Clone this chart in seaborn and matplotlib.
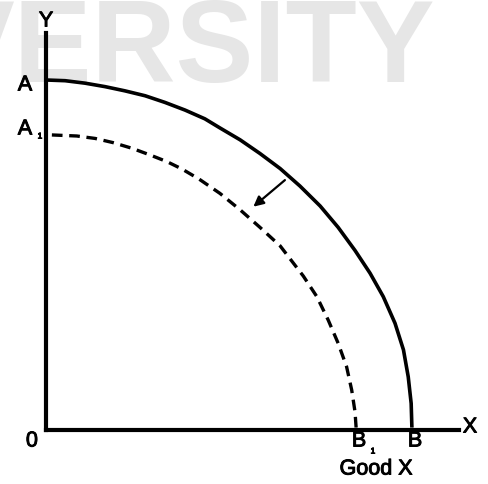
import matplotlib
matplotlib.use("Agg")
import matplotlib.pyplot as plt
import matplotlib.patheffects as pe
import seaborn as sns
import pandas as pd

# Production possibility frontier, original (A-B) and after contraction (A1-B1)
ppf_good_x = [0.00, 0.52, 1.06, 1.61, 2.15, 2.70, 3.24, 3.79, 4.33, 4.74, 5.29, 5.83, 6.38,
              6.92, 7.47, 7.96, 8.42, 8.83, 9.19, 9.51, 9.74, 9.87, 9.95, 9.97, 9.97]
ppf_good_y = [10.00, 9.98, 9.91, 9.81, 9.69, 9.55, 9.36, 9.14, 8.89, 8.63, 8.29, 7.90, 7.47,
              6.97, 6.40, 5.79, 5.13, 4.48, 3.81, 3.05, 2.29, 1.52, 0.76, 0.14, 0.00]

ppf1_good_x = [0.16, 0.84, 1.34, 1.83, 2.34, 2.83, 3.29, 3.70, 4.17, 4.74, 5.29, 5.83, 6.38,
               7.01, 7.38, 7.69, 7.96, 8.19, 8.33, 8.42, 8.45, 8.45]
ppf1_good_y = [8.43, 8.40, 8.33, 8.21, 8.05, 7.86, 7.67, 7.46, 7.17, 6.76, 6.29, 5.79, 5.26,
               4.40, 3.81, 3.14, 2.48, 1.81, 1.14, 0.52, 0.14, 0.00]

W, H = 489, 484
sns.set_theme(style="white")
plt.rcParams["font.family"] = ["Liberation Sans", "DejaVu Sans"]

fig = plt.figure(figsize=(W / 100, H / 100), dpi=100)
fig.patch.set_facecolor("white")

# axes placed so the origin sits near the lower-left corner
x0, y0, x1, y1 = 46, 430, 459, 33
ax = fig.add_axes([x0 / W, 1 - y0 / H, (x1 - x0) / W, (y0 - y1) / H])
ax.patch.set_alpha(0)
ax.set_xlim(0, (x1 - x0) / 36.7)
ax.set_ylim(0, (y0 - y1) / 35.0)

def fx(px):
    return px / W

def fy(py):
    return 1 - py / H

# faint background lettering
ax.text(fx(435), fy(82), "VERSITY", transform=fig.transFigure, ha="right", va="baseline",
        fontsize=84, fontweight="bold", color="#e6e6e6", zorder=0.2, clip_on=False)

df = pd.DataFrame({"x": ppf_good_x, "y": ppf_good_y})
df1 = pd.DataFrame({"x": ppf1_good_x, "y": ppf1_good_y})
sns.lineplot(data=df, x="x", y="y", sort=False, ax=ax, color="black", lw=2.6,
             solid_joinstyle="round", solid_capstyle="butt", clip_on=False, zorder=3)
sns.lineplot(data=df1, x="x", y="y", sort=False, ax=ax, color="black", lw=2.4,
             dashes=False, clip_on=False, zorder=3)
ax.lines[-1].set_linestyle((0, (3.2, 2.0)))

# inward shift arrow
ax.annotate("", xy=(5.65, 6.38), xytext=(6.51, 7.14),
            arrowprops=dict(arrowstyle="-|>,head_length=0.5,head_width=0.25", color="black",
                            lw=1.6, shrinkA=0, shrinkB=0), zorder=4)

for side in ["top", "right"]:
    ax.spines[side].set_visible(False)
for side in ["left", "bottom"]:
    ax.spines[side].set_color("black")
    ax.spines[side].set_linewidth(3.0)
ax.set_xticks([])
ax.set_yticks([])
ax.set_xlabel("")
ax.set_ylabel("")

fs = 15.5
thick = [pe.withStroke(linewidth=0.7, foreground="black")]

def label(px, py, s, size=fs):
    fig.text(fx(px), fy(py), s, ha="center", va="center", fontsize=size, color="black",
             path_effects=thick)

label(46, 21, "Y")
label(470, 427, "X")
label(32, 441, "0")
label(25, 85, "A")
label(25, 129, "A")
label(40, 137, "1", 6)
label(359, 441, "B")
label(373, 452, "1", 6)
label(415, 441, "B")
label(376, 469, "Good X")

fig.savefig("out.png", dpi=100, facecolor="white")
